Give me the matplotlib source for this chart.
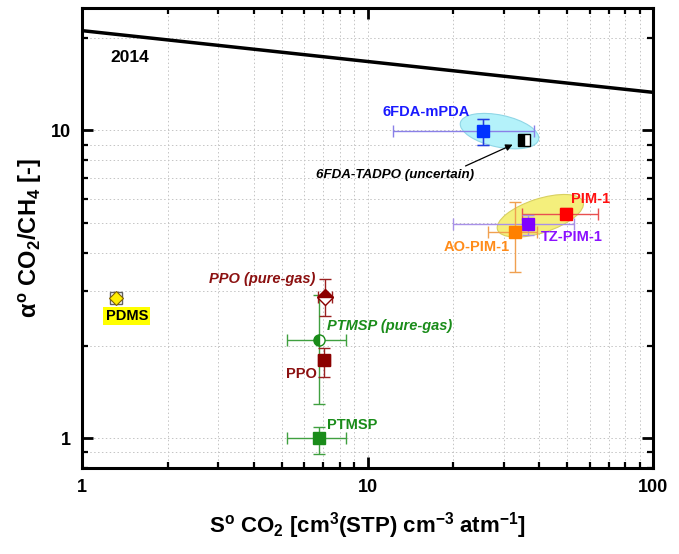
import matplotlib
matplotlib.use("Agg")
import matplotlib.pyplot as plt
from matplotlib.patches import Ellipse
from matplotlib.transforms import ScaledTranslation
import numpy as np

plt.rcParams['font.family'] = ['Liberation Sans', 'DejaVu Sans']
plt.rcParams['mathtext.fontset'] = 'custom'
plt.rcParams['mathtext.rm'] = 'Liberation Sans:bold'
plt.rcParams['mathtext.bf'] = 'Liberation Sans:bold'
plt.rcParams['mathtext.it'] = 'Liberation Sans:bold'

# ---- data ----
bound_x = [1, 100]
bound_y = [21.1, 13.3]

mpda_x, mpda_y = 25.3, 9.95
mpda_xerr = [12.3, 38.4]
mpda_yerr = [9.0, 10.9]

tadpo_x, tadpo_y = 35.3, 9.3

pim_x, pim_y = 49.6, 5.36
pim_xerr = [34.7, 64.4]
pim_yerr = [5.15, 5.6]

tz_x, tz_y = 36.6, 4.97
tz_xerr = [20.0, 52.9]
tz_yerr = [4.58, 5.32]

ao_x, ao_y = 32.9, 4.67
ao_xerr = [26.5, 39.1]
ao_yerr = [3.47, 5.87]

pdms_x, pdms_y = 1.316, 2.85

ppog_x, ppog_y = 7.10, 2.87
ppog_xerr = [6.7, 7.5]
ppog_yerr = [2.49, 3.28]

ptg_x, ptg_y = 6.78, 2.09
ptg_xerr = [5.21, 8.39]
ptg_yerr = [1.29, 2.91]

ppo_x, ppo_y = 7.06, 1.795
ppo_xerr = [6.7, 7.4]
ppo_yerr = [1.58, 1.97]

pt_x, pt_y = 6.78, 1.0
pt_xerr = [5.21, 8.39]
pt_yerr = [0.89, 1.09]

# ---- figure ----
fig = plt.figure(figsize=(6.79, 5.54), dpi=100)
ax = fig.add_axes([0.1208, 0.1552, 0.8409, 0.8304])
ax.set_xscale('log')
ax.set_yscale('log')
ax.set_xlim(1, 100)
ax.set_ylim(0.8, 25)

ax.grid(True, which='both', linestyle=(0, (1.5, 2.5)), color='#c4c4c4', linewidth=0.7)
ax.set_axisbelow(True)

def ell(cx, cy, w, h, ang, fc, ec):
    tr = fig.dpi_scale_trans + ScaledTranslation(cx, cy, ax.transData)
    e = Ellipse((0, 0), w, h, angle=ang, transform=tr, facecolor=fc,
                edgecolor=ec, linewidth=0.8, zorder=1.5)
    ax.add_patch(e)

ell(29.0, 9.95, 0.80, 0.32, -12, '#b4f2fa', '#8fd6e6')
ell(40.3, 5.28, 0.90, 0.34, 18, '#f4ef7c', '#d8d060')

ax.plot(bound_x, bound_y, color='black', linewidth=2.5, zorder=3)

def pt(x, y, xe, ye, color, ecol, marker='s', ms=8, **kw):
    xerr = None if xe is None else [[x - xe[0]], [xe[1] - x]]
    yerr = None if ye is None else [[y - ye[0]], [ye[1] - y]]
    ax.errorbar([x], [y], xerr=xerr, yerr=yerr, fmt=marker, ms=ms,
                color=color, ecolor=ecol, elinewidth=1.0, capsize=4,
                capthick=1.0, markeredgecolor=color, zorder=4, **kw)

pt(mpda_x, mpda_y, mpda_xerr, mpda_yerr, '#0033ff', '#8a80e8')
ax.errorbar([mpda_x], [mpda_y], yerr=[[mpda_y - mpda_yerr[0]], [mpda_yerr[1] - mpda_y]],
            fmt='none', ecolor='#1f3fe0', elinewidth=1.0, capsize=4, zorder=4)
ax.plot([tadpo_x], [tadpo_y], marker='s', ms=8, color='black', fillstyle='left',
        markerfacecoloralt='white', markeredgecolor='black', zorder=5)

pt(pim_x, pim_y, pim_xerr, pim_yerr, '#ff0000', '#e85050')
pt(tz_x, tz_y, tz_xerr, tz_yerr, '#8000ff', '#a890e8')
pt(ao_x, ao_y, ao_xerr, ao_yerr, '#ff8000', '#f0a050')

ax.plot([pdms_x], [pdms_y], marker='s', ms=9, color='none', markeredgecolor='#606060', mew=1.0, zorder=4)
ax.plot([pdms_x], [pdms_y], marker='D', ms=7, color='#ffee00', markeredgecolor='#806000', mew=0.8, zorder=5)

pt(ptg_x, ptg_y, ptg_xerr, ptg_yerr, '#1a8c1a', '#40a040', marker='o', ms=8,
   fillstyle='left', markerfacecoloralt='white')
pt(ppog_x, ppog_y, ppog_xerr, ppog_yerr, '#8b0000', '#9a2020', marker='D', ms=8,
   fillstyle='top', markerfacecoloralt='white')
pt(ppo_x, ppo_y, ppo_xerr, ppo_yerr, '#8b0000', '#9a2020')
pt(pt_x, pt_y, pt_xerr, pt_yerr, '#1a8c1a', '#40a040')

# labels
fs = 10.5
ax.text(1.47, 17.3, '2014', fontsize=12.5, fontweight='bold', ha='center', va='center')
ax.text(16.1, 11.5, '6FDA-mPDA', color='#1a1aff', fontsize=fs, fontweight='bold', ha='center', va='center')
ax.text(12.45, 7.18, '6FDA-TADPO (uncertain)', color='black', fontsize=9.6, fontweight='bold',
        fontstyle='italic', ha='center', va='center')
ax.annotate('', xy=(32.9, 9.07), xytext=(21.6, 7.6),
            arrowprops=dict(arrowstyle='-|>', color='black', lw=0.9, mutation_scale=10))
ax.text(60.2, 5.98, 'PIM-1', color='#ff1010', fontsize=fs, fontweight='bold', ha='center', va='center')
ax.text(51.9, 4.51, 'TZ-PIM-1', color='#8b10ff', fontsize=fs, fontweight='bold', ha='center', va='center')
ax.text(24.1, 4.19, 'AO-PIM-1', color='#ff8c1a', fontsize=fs, fontweight='bold', ha='center', va='center')
ax.text(4.26, 3.28, 'PPO (pure-gas)', color='#8b1010', fontsize=fs, fontweight='bold',
        fontstyle='italic', ha='center', va='center')
ax.text(7.21, 2.32, 'PTMSP (pure-gas)', color='#1a8c1a', fontsize=fs, fontweight='bold',
        fontstyle='italic', ha='left', va='center')
ax.text(6.66, 1.62, 'PPO', color='#8b1010', fontsize=fs, fontweight='bold', ha='right', va='center')
ax.text(7.21, 1.10, 'PTMSP', color='#1a8c1a', fontsize=fs, fontweight='bold', ha='left', va='center')
ax.text(1.434, 2.49, 'PDMS', color='black', fontsize=fs, fontweight='bold', ha='center', va='center',
        bbox=dict(boxstyle='square,pad=0.15', facecolor='#ffff00', edgecolor='none'))

# axes styling
for s in ax.spines.values():
    s.set_linewidth(2.2)
ax.tick_params(which='both', direction='in', top=True, right=True, width=2.0)
ax.tick_params(which='major', length=8, labelsize=13, pad=8)
ax.tick_params(which='minor', length=4, width=1.6)
ax.set_xticks([1, 10, 100])
ax.set_xticklabels(['1', '10', '100'])
ax.set_yticks([1, 10])
ax.set_yticklabels(['1', '10'])
ax.yaxis.set_minor_formatter(matplotlib.ticker.NullFormatter())
ax.xaxis.set_minor_formatter(matplotlib.ticker.NullFormatter())
for lab in ax.get_xticklabels() + ax.get_yticklabels():
    lab.set_fontweight('bold')

ax.set_xlabel(r'S$^{\mathrm{o}}$ CO$_{2}$ [cm$^{3}$(STP) cm$^{-3}$ atm$^{-1}$]',
              fontsize=16, fontweight='bold', labelpad=10)
ax.set_ylabel(r'$\alpha^{\mathrm{o}}$ CO$_{2}$/CH$_{4}$ [-]', fontsize=17, fontweight='bold', labelpad=5)

fig.savefig('out.png', dpi=100)
